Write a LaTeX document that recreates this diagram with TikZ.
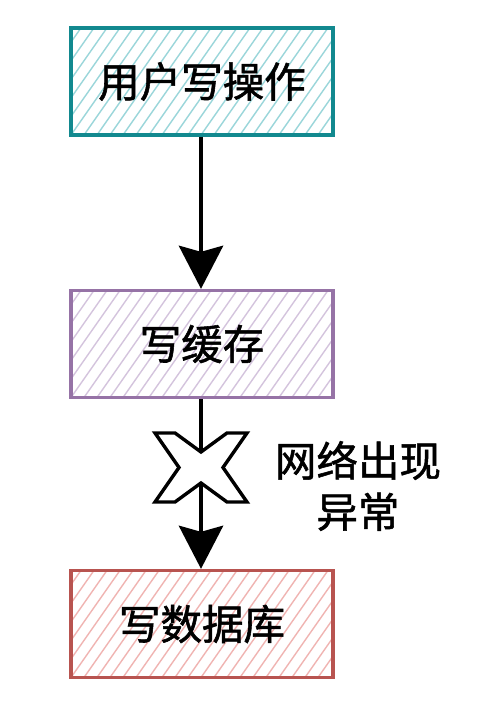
\documentclass[tikz,border=0pt]{standalone}
\usepackage{fontspec}
\setmainfont{Noto Sans CJK SC}[FakeBold=1.3]
\usetikzlibrary{arrows.meta}
\definecolor{tealS}{HTML}{12898F}
\definecolor{tealF}{HTML}{9AD6DA}
\definecolor{purpS}{HTML}{9673A6}
\definecolor{purpF}{HTML}{D4C4DD}
\definecolor{redS}{HTML}{B85450}
\definecolor{redF}{HTML}{F0B4B2}
\tikzset{
  hatchbox/.style 2 args={draw=#1, line width=3.3pt, minimum width=262pt, minimum height=107pt,
    inner sep=0pt, font=\fontsize{41.5}{48}\selectfont,
    path picture={\foreach \i in {-40,...,40}
      \draw[#2, line width=1.4pt] ([xshift=\i*13pt]path picture bounding box.south west) -- ++(55:260pt);}},
  flow/.style={line width=4.8pt, -{Stealth[width=44pt,length=43pt,inset=6pt]}},
  crossmark/.style={draw=black, line width=3.4pt, fill=white, line join=miter},
  lbl/.style={font=\fontsize{41.5}{51}\selectfont, align=center, inner sep=0pt}
}
\begin{document}
\begin{tikzpicture}
\useasboundingbox[fill=white] (0,0) rectangle (494pt,726pt);
\node[hatchbox={tealS}{tealF}] (user) at (202pt,644.5pt) {用户写操作};
\node[hatchbox={purpS}{purpF}] (cache) at (202pt,382pt) {写缓存};
\node[hatchbox={redS}{redF}] (db) at (202pt,102pt) {写数据库};
\draw[flow] (user.south -| 201pt,0) -- (cache.north -| 201pt,0);
\draw[flow] (cache.south -| 201pt,0) -- (db.north -| 201pt,0);
\coordinate (fail) at (201pt,258.5pt);
\draw[crossmark] ([shift={(-46pt,34.5pt)}]fail) -- ++(20pt,0) -- ([shift={(0pt,15.5pt)}]fail)
  -- ([shift={(26pt,34.5pt)}]fail) -- ++(20pt,0) -- ([shift={(22pt,0pt)}]fail)
  -- ([shift={(46pt,-34.5pt)}]fail) -- ++(-20pt,0) -- ([shift={(0pt,-15.5pt)}]fail)
  -- ([shift={(-26pt,-34.5pt)}]fail) -- ++(-20pt,0) -- ([shift={(-22pt,0pt)}]fail) -- cycle;
\node[lbl] (note) at (358pt,240pt) {网络出现\\异常};
\end{tikzpicture}
\end{document}
